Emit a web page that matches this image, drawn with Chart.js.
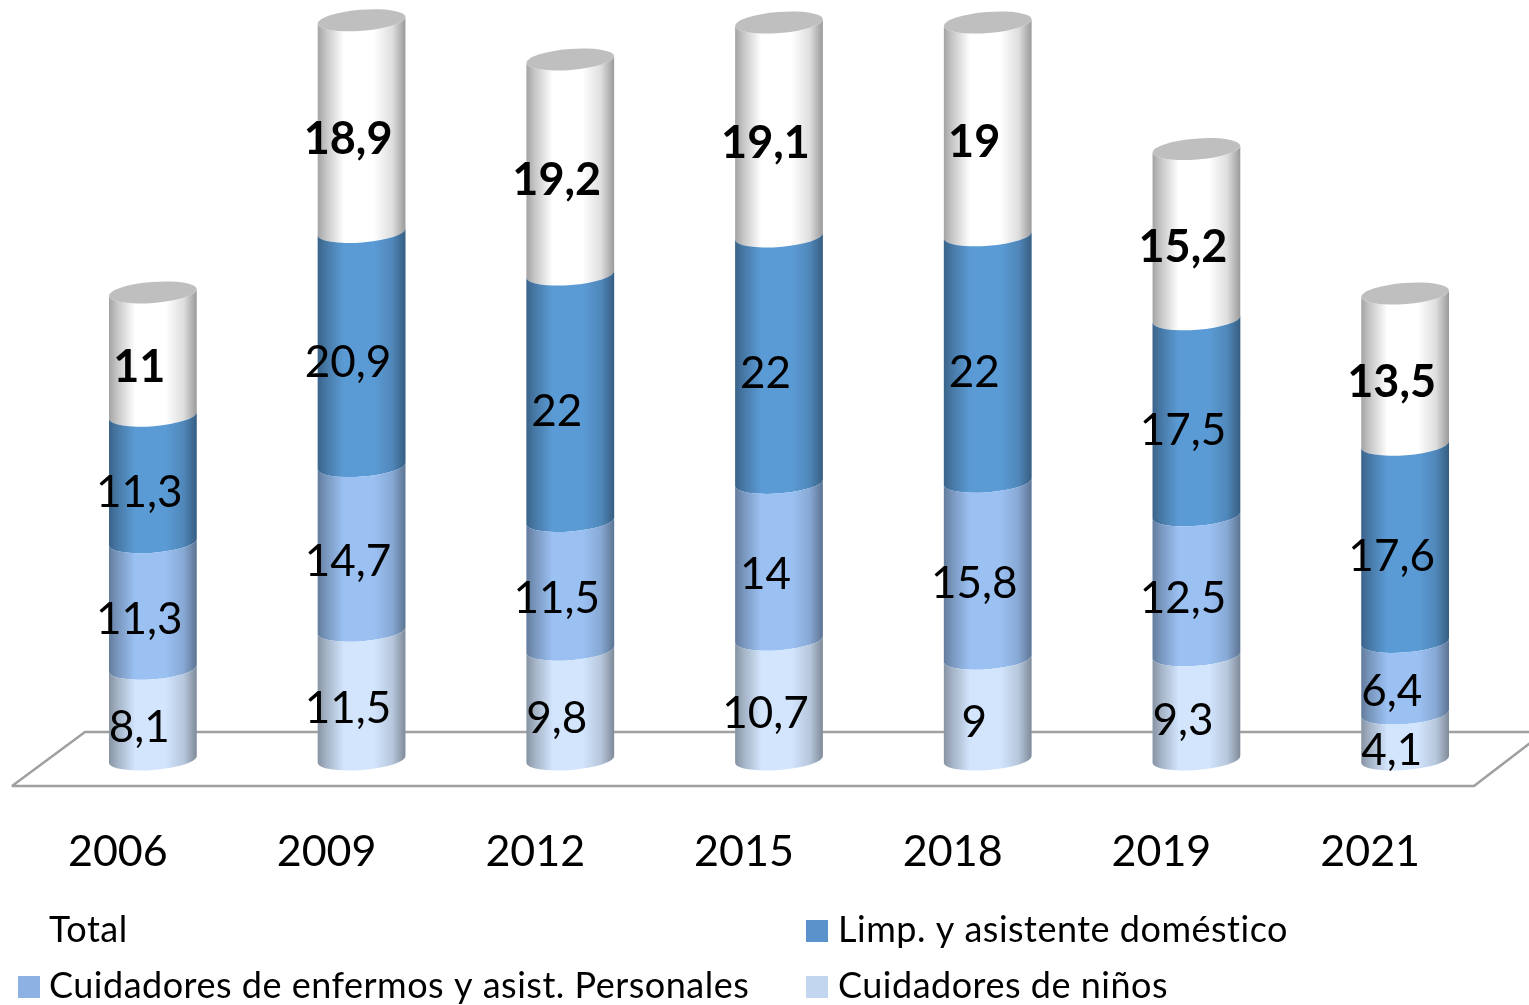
<!DOCTYPE html>
<html>
<head>
<meta charset="utf-8">
<style>
  html, body { margin: 0; padding: 0; background: #fff; }
  canvas { display: block; }
</style>
<script src="https://cdn.jsdelivr.net/npm/chart.js@4"></script>
</head>
<body>
<canvas id="chart" width="1529" height="1005"></canvas>
<script>
const years = ['2006', '2009', '2012', '2015', '2018', '2019', '2021'];
const ninos = [8.1, 11.5, 9.8, 10.7, 9, 9.3, 4.1];
const enfermos = [11.3, 14.7, 11.5, 14, 15.8, 12.5, 6.4];
const limpieza = [11.3, 20.9, 22, 22, 22, 17.5, 17.6];
const total = [11, 18.9, 19.2, 19.1, 19, 15.2, 13.5];

const FONT = 'Lato, Carlito, sans-serif';
const TILT = -4.5 * Math.PI / 180;
const CAP_H = 10.5;
const TOTAL_FILL = '#ffffff';

// cylinder instead of the plain rectangle
Chart.BarElement.prototype.draw = function (ctx) {
    const a = this.width / 2, x = this.x, top = this.y, base = this.base;
    ctx.save();
    ctx.beginPath();
    ctx.ellipse(x, base, a, CAP_H, TILT, 0, Math.PI);
    ctx.ellipse(x, top, a, CAP_H, TILT, Math.PI, 0, true);
    ctx.closePath();
    ctx.fillStyle = this.options.backgroundColor;
    ctx.fill();
    const shade = ctx.createLinearGradient(x - a, 0, x + a, 0);
    shade.addColorStop(0, 'rgba(0,0,0,0.36)');
    shade.addColorStop(0.1, 'rgba(0,0,0,0.22)');
    shade.addColorStop(0.3, 'rgba(0,0,0,0)');
    shade.addColorStop(0.64, 'rgba(0,0,0,0)');
    shade.addColorStop(0.85, 'rgba(0,0,0,0.13)');
    shade.addColorStop(1, 'rgba(0,0,0,0.4)');
    ctx.fillStyle = shade;
    ctx.fill();
    if (this.options.backgroundColor === TOTAL_FILL) {
        ctx.beginPath();
        ctx.ellipse(x, top, a, CAP_H, TILT, 0, Math.PI * 2);
        ctx.fillStyle = '#bfbfbf';
        ctx.fill();
    }
    ctx.restore();
};

const floorPlugin = {
    id: 'floor',
    beforeDatasetsDraw(chart) {
        const ctx = chart.ctx, area = chart.chartArea;
        const back = area.bottom - 27.5, front = area.bottom + 26.5;
        ctx.save();
        ctx.strokeStyle = '#a0a0a0';
        ctx.lineWidth = 2.5;
        ctx.lineJoin = 'bevel';
        ctx.beginPath();
        ctx.moveTo(chart.width + 20, back);
        ctx.lineTo(area.left + 36.5, back);
        ctx.lineTo(area.left - 36.5, front);
        ctx.lineTo(area.right - 35.5, front);
        ctx.lineTo(area.right + 35, back);
        ctx.stroke();
        ctx.restore();
    }
};

const valueLabels = {
    id: 'valueLabels',
    afterDatasetsDraw(chart) {
        const ctx = chart.ctx;
        ctx.save();
        ctx.fillStyle = '#000';
        ctx.textAlign = 'center';
        ctx.textBaseline = 'alphabetic';
        chart.data.datasets.forEach((ds, i) => {
            ctx.font = (i === 3 ? 'bold 45px ' : '44px ') + FONT;
            chart.getDatasetMeta(i).data.forEach((bar, j) => {
                const text = String(ds.data[j]).replace('.', ',');
                ctx.fillText(text, bar.x - 13.5, (bar.y + bar.base) / 2 + 28);
            });
        });
        ctx.restore();
    }
};

const legendGrid = {
    id: 'legendGrid',
    afterDraw(chart) {
        const ctx = chart.ctx;
        const cols = [18, 806], rows = [942, 998];
        const items = [
            { label: 'Total', c: 0, r: 0, color: '#ffffff' },
            { label: 'Limp. y asistente doméstico', c: 1, r: 0, color: '#5a93cb' },
            { label: 'Cuidadores de enfermos y asist. Personales', c: 0, r: 1, color: '#8db1e2' },
            { label: 'Cuidadores de niños', c: 1, r: 1, color: '#c3d6f0' }
        ];
        ctx.save();
        ctx.font = '36px ' + FONT;
        ctx.letterSpacing = '0.5px';
        ctx.textBaseline = 'alphabetic';
        ctx.textAlign = 'left';
        items.forEach(it => {
            const x = cols[it.c], y = rows[it.r];
            ctx.fillStyle = it.color;
            ctx.fillRect(x, y - 22, 22, 22);
            ctx.fillStyle = '#000';
            ctx.fillText(it.label, x + 31 + it.c, y);
        });
        ctx.restore();
    }
};

new Chart(document.querySelector('#chart'), {
    type: 'bar',
    plugins: [floorPlugin, valueLabels, legendGrid],
    data: {
        labels: years,
        datasets: [
            { label: 'Cuidadores de niños', data: ninos, backgroundColor: '#d2e5fd' },
            { label: 'Cuidadores de enfermos y asist. Personales', data: enfermos, backgroundColor: '#9bc1f3' },
            { label: 'Limp. y asistente doméstico', data: limpieza, backgroundColor: '#5b9bd5' },
            { label: 'Total', data: total, backgroundColor: TOTAL_FILL }
        ]
    },
    options: {
        responsive: false,
        animation: false,
        layout: { padding: { top: 9.1, left: 48.5, right: 19.5, bottom: 0 } },
        datasets: { bar: { barThickness: 88, categoryPercentage: 1, barPercentage: 1, clip: false } },
        scales: {
            x: {
                stacked: true,
                grid: { display: false },
                border: { display: false },
                afterFit(scale) { scale.height = 245.5; },
                ticks: {
                    color: '#000',
                    font: { family: FONT, size: 43 },
                    labelOffset: -35,
                    padding: 59,
                    maxRotation: 0,
                    autoSkip: false
                }
            },
            y: { stacked: true, display: false, min: 0, max: 67 }
        },
        plugins: {
            legend: { display: false },
            tooltip: { enabled: false }
        }
    }
});
</script>
</body>
</html>
